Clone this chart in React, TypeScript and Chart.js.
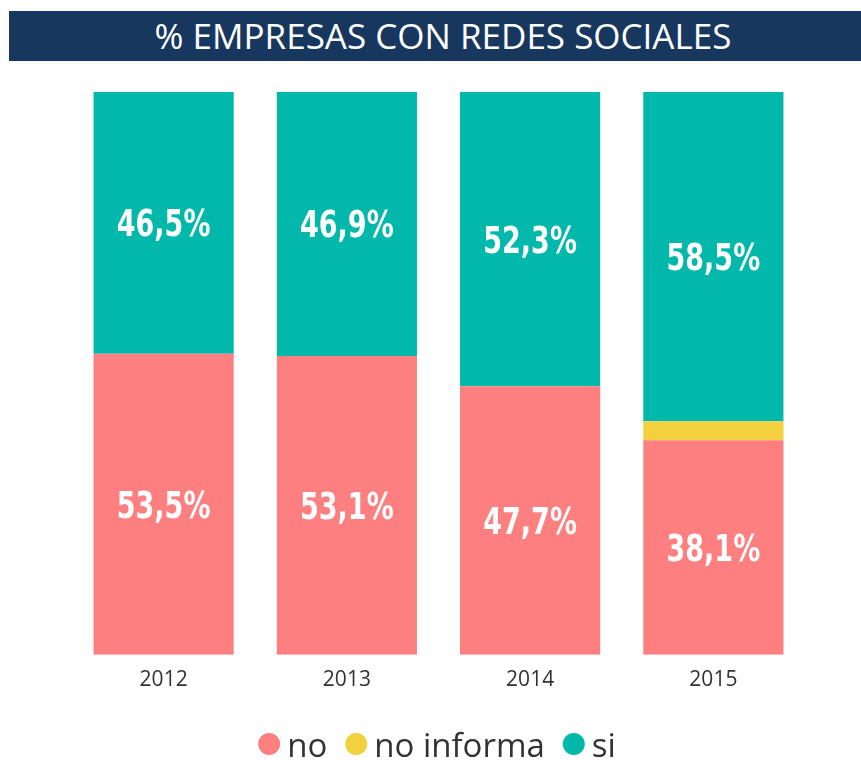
import React, { useEffect, useRef } from "react";
import { Chart, registerables } from "chart.js";

Chart.register(...registerables);

const years = ["2012", "2013", "2014", "2015"];
const noValues = [53.5, 53.1, 47.7, 38.1];
const noInformaValues = [0, 0, 0, 3.4];
const siValues = [46.5, 46.9, 52.3, 58.5];
const seriesLabels = ["no", "no informa", "si"];
const seriesColors = ["#FD7F7F", "#F3D03E", "#01B8AA"];
const titleText = "% EMPRESAS CON REDES SOCIALES";

const fmt = (v: number) => v.toFixed(1).replace(".", ",") + "%";

const segmentLabels = {
  id: "segmentLabels",
  afterDatasetsDraw(chart: any) {
    const ctx = chart.ctx;
    chart.data.datasets.forEach((ds: any, di: number) => {
      if (di === 1) return;
      const meta = chart.getDatasetMeta(di);
      meta.data.forEach((bar: any, i: number) => {
        const v = ds.data[i];
        if (!v) return;
        const y = (bar.y + bar.base) / 2 + 4;
        ctx.save();
        ctx.translate(bar.x, y);
        ctx.scale(1, 1.22);
        ctx.fillStyle = "#ffffff";
        ctx.textAlign = "center";
        ctx.textBaseline = "middle";
        ctx.font = "bold 30px 'DejaVu Sans Condensed', 'DejaVu Sans', sans-serif";
        ctx.fillText(fmt(v), 0, 0);
        ctx.restore();
      });
    });
  },
};

const bottomLegend = {
  id: "bottomLegend",
  afterDraw(chart: any) {
    const ctx = chart.ctx;
    const r = 11;
    const gapAfterDot = 7;
    const gapBetween = 18;
    const centerX = 437;
    const dotY = 744;
    const baseY = 757;
    ctx.save();
    ctx.font = "33px 'Open Sans', sans-serif";
    ctx.textBaseline = "alphabetic";
    ctx.textAlign = "left";
    const items = chart.data.datasets.map((ds: any) => ({
      label: ds.label,
      color: ds.backgroundColor,
      w: ctx.measureText(ds.label).width,
    }));
    const total = items.reduce((s: number, it: any, i: number) => s + 2 * r + gapAfterDot + it.w + (i > 0 ? gapBetween : 0), 0);
    let x = centerX - total / 2;
    items.forEach((it: any, i: number) => {
      if (i > 0) x += gapBetween;
      ctx.beginPath();
      ctx.arc(x + r, dotY, r, 0, Math.PI * 2);
      ctx.fillStyle = it.color;
      ctx.fill();
      x += 2 * r + gapAfterDot;
      ctx.fillStyle = "#333333";
      ctx.fillText(it.label, x, baseY);
      x += it.w;
    });
    ctx.restore();
  },
};

export default function App() {
  const ref = useRef<HTMLCanvasElement | null>(null);
  useEffect(() => {
    if (!ref.current) return;
    const chart = new Chart(ref.current, {
      type: "bar",
      data: {
        labels: years,
        datasets: [
          { label: seriesLabels[0], data: noValues, backgroundColor: seriesColors[0] },
          { label: seriesLabels[1], data: noInformaValues, backgroundColor: seriesColors[1] },
          { label: seriesLabels[2], data: siValues, backgroundColor: seriesColors[2] },
        ],
      },
      options: {
        responsive: false,
        animation: false,
        layout: { padding: { left: 72, right: 56, top: 92, bottom: 54 } },
        datasets: { bar: { barPercentage: 1, categoryPercentage: 0.765 } },
        scales: {
          x: {
            stacked: true,
            grid: { display: false, drawTicks: false },
            border: { display: false },
            ticks: {
              color: "#333333",
              font: { family: "'Open Sans', sans-serif", size: 21 },
              padding: 13,
            },
          },
          y: {
            stacked: true,
            display: false,
            min: 0,
            max: 100,
          },
        },
        plugins: {
          legend: { display: false },
          tooltip: { enabled: false },
        },
      },
      plugins: [segmentLabels, bottomLegend],
    });
    return () => chart.destroy();
  }, []);
  return (
    <div style={{ position: "fixed", left: 0, top: 0, width: 861, height: 760, background: "#fff", overflow: "hidden" }}>
      <div
        style={{
          position: "absolute",
          left: 9,
          top: 11,
          width: 852,
          height: 50,
          background: "#17375E",
          color: "#fff",
          font: "35px 'Open Sans', sans-serif",
          lineHeight: "50px",
          textAlign: "center",
          paddingLeft: 16,
          boxSizing: "border-box",
          whiteSpace: "nowrap",
        }}
      >
        {titleText}
      </div>
      <canvas ref={ref} width={861} height={760} style={{ position: "absolute", left: 0, top: 0, display: "block" }} />
    </div>
  );
}
